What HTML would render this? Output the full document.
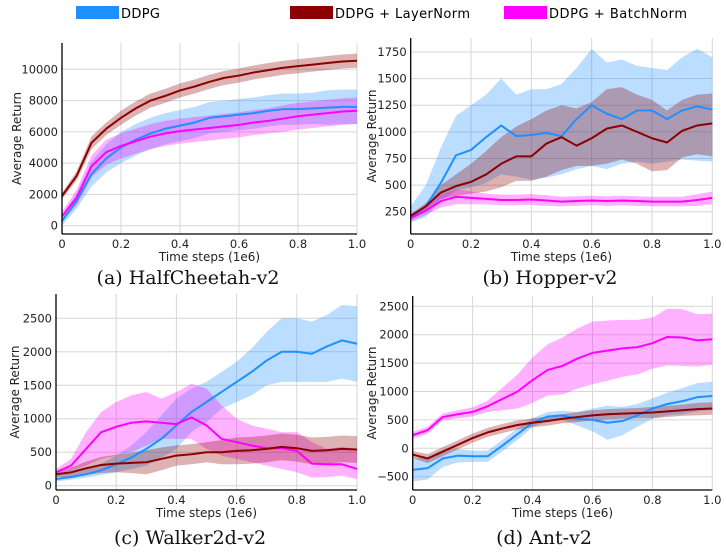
<!DOCTYPE html>
<html><head><meta charset="utf-8"><style>
html,body{margin:0;padding:0;background:#fff;}
svg{display:block;font-family:"DejaVu Sans","Liberation Sans",sans-serif;}
.cap{font-family:"DejaVu Serif","Liberation Serif",serif;font-size:19px;}
</style></head><body>
<svg id="fig" width="727" height="553" xmlns="http://www.w3.org/2000/svg">
<g>
 <rect x="76" y="6" width="43" height="13" fill="#1e90ff"/>
 <text x="121" y="18" font-size="13" textLength="39">DDPG</text>
 <rect x="290" y="6" width="43" height="13" fill="#8b0000"/>
 <text x="335" y="18" font-size="13" textLength="135">DDPG + LayerNorm</text>
 <rect x="504" y="6" width="43" height="13" fill="#ff00ff"/>
 <text x="549" y="18" font-size="13" textLength="138">DDPG + BatchNorm</text>
</g>
</svg>
<script>
const xs=[0,.05,.1,.15,.2,.25,.3,.35,.4,.45,.5,.55,.6,.65,.7,.75,.8,.85,.9,.95,1];
const xTicks=[0,0.2,0.4,0.6,0.8,1.0];
const xTickLabels=["0","0.2","0.4","0.6","0.8","1.0"];
// HalfCheetah
const hcTicks=[0,2000,4000,6000,8000,10000];
const hcLN=[1900,3200,5300,6200,6900,7500,8000,8300,8650,8900,9200,9450,9600,9800,9950,10100,10200,10300,10400,10500,10550];
const hcLNs=[200,300,400,400,450,450,450,450,450,450,450,450,450,450,450,450,450,450,450,450,450];
const hcD=[300,1600,3300,4300,5000,5500,5900,6200,6400,6600,6900,7000,7100,7200,7350,7450,7450,7500,7550,7600,7600];
const hcDs=[300,500,800,900,1000,1000,1000,1000,1000,1000,1000,1000,1000,1000,1000,1000,1000,1000,1100,1100,1100];
const hcB=[600,1800,3800,4700,5100,5400,5700,5900,6050,6150,6250,6350,6450,6600,6700,6850,7000,7100,7200,7300,7350];
const hcBs=[300,500,700,800,800,800,800,800,800,800,800,800,800,800,800,850,850,850,850,850,850];
// Hopper
const hoTicks=[250,500,750,1000,1250,1500,1750];
const hoD=[200,300,520,780,830,950,1060,960,970,990,960,1120,1250,1170,1120,1200,1200,1120,1200,1240,1210];
const hoDhi=[300,500,850,1150,1250,1350,1500,1350,1400,1400,1450,1600,1780,1650,1680,1620,1600,1580,1700,1780,1700];
const hoDlo=[150,200,350,450,480,520,600,580,550,570,600,650,680,650,700,720,700,720,740,730,720];
const hoL=[210,300,430,490,530,600,700,770,770,890,950,870,940,1030,1060,1000,940,900,1010,1060,1080];
const hoLhi=[230,330,500,600,700,820,950,1050,1120,1200,1250,1220,1280,1400,1420,1350,1300,1200,1300,1350,1360];
const hoLlo=[190,270,370,400,420,440,480,540,540,580,640,680,680,700,740,700,630,640,760,790,770];
const hoB=[190,260,350,390,380,370,360,360,365,355,345,350,355,350,355,350,345,345,345,360,380];
const hoBs=[30,40,60,70,60,50,50,50,50,50,45,45,45,45,45,45,45,45,45,55,60];
// Walker
const waTicks=[0,500,1000,1500,2000,2500];
const waD=[100,130,170,230,320,420,550,700,900,1100,1250,1400,1550,1700,1870,2000,2000,1970,2080,2170,2120];
const waDhi=[150,200,250,330,450,600,800,1050,1300,1450,1550,1700,1850,2050,2300,2500,2500,2450,2550,2700,2680];
const waDlo=[60,90,120,160,200,250,300,420,550,800,950,1150,1250,1350,1500,1550,1550,1550,1550,1600,1550];
const waB=[200,300,550,800,880,940,960,940,920,1020,900,700,650,600,560,560,520,330,320,320,250];
const waBhi=[250,400,800,1100,1250,1350,1400,1300,1400,1520,1450,1200,1000,900,850,800,800,650,550,580,550];
const waBlo=[170,220,300,400,450,500,600,700,700,700,550,450,400,350,300,250,200,120,130,150,100];
const waL=[170,200,260,310,330,340,350,400,450,470,500,500,520,530,550,580,560,520,530,550,540];
const waLs=[40,70,100,120,130,150,180,170,150,150,150,180,200,200,200,200,200,200,200,200,200];
// Ant
const anTicks=[-500,0,500,1000,1500,2000,2500];
const anB=[230,320,550,600,640,740,870,1000,1200,1380,1450,1580,1680,1720,1760,1780,1850,1960,1950,1900,1920];
const anBs=[60,60,60,70,80,100,200,300,400,450,500,530,550,530,500,480,450,500,500,460,450];
const anD=[-380,-350,-180,-130,-140,-140,50,250,450,560,580,520,500,450,480,580,700,780,830,900,920];
const anDs=[200,200,150,120,100,100,100,100,80,80,80,120,200,300,250,200,180,200,230,250,250];
const anL=[-110,-180,-60,60,180,280,350,410,450,480,520,550,580,600,610,620,630,650,670,690,700];
const anLs=[60,80,80,80,80,80,80,80,80,80,80,90,90,90,90,90,100,100,100,110,110];

const NS="http://www.w3.org/2000/svg";
const fig=document.getElementById('fig');
function mk(tag,attrs,parent){const e=document.createElementNS(NS,tag);for(const k in attrs)e.setAttribute(k,attrs[k]);(parent||fig).appendChild(e);return e;}
const BLUE="#1e90ff",RED="#8b0000",MAG="#ff00ff";

function panel(id,cfg){
 const g=mk('g',{});
 
 
 const X=v=>cfg.x0+(cfg.x1-cfg.x0)*v;
 const Y=v=>cfg.yz+(v-cfg.v0)*(cfg.yo-cfg.yz)/(cfg.v1-cfg.v0);
 xTicks.forEach((t,i)=>{
  const l=mk('line',{x1:X(t),x2:X(t),y1:cfg.top,y2:cfg.bot,stroke:'#d6d6d6','stroke-width':1},g);
  
  
  const tx=mk('text',{x:X(t),y:cfg.bot+14,'font-size':11.5,'text-anchor':'middle',fill:'#222'},g);
  
  
  tx.textContent=xTickLabels[i];
 });
 cfg.ticks.forEach(t=>{
  const l=mk('line',{x1:cfg.x0,x2:cfg.x1,y1:Y(t),y2:Y(t),stroke:'#d6d6d6','stroke-width':1},g);
  
  
  const tx=mk('text',{x:cfg.x0-4,y:Y(t)+4,'font-size':11.5,'text-anchor':'end',fill:'#222'},g);
  
  
  tx.textContent=String(t).replace('-','\u2212');
 });
 cfg.series.forEach(s=>{
  const up=xs.map((x,i)=>X(x)+','+Y(s.hi[i]));
  const dn=xs.map((x,i)=>X(x)+','+Y(s.lo[i])).reverse();
  const band=mk('polygon',{points:up.concat(dn).join(' '),fill:s.c,'fill-opacity':s.a||0.3,stroke:'none'},g);
  
  
 });
 cfg.series.forEach(s=>{
  const ln=mk('polyline',{points:xs.map((x,i)=>X(x)+','+Y(s.m[i])).join(' '),fill:'none',stroke:s.c,'stroke-width':2,'stroke-linejoin':'round'},g);
  
  
 });
 const sl=mk('line',{x1:cfg.x0,x2:cfg.x0,y1:cfg.top,y2:cfg.bot,stroke:'#000','stroke-width':1.3},g);
 
 
 const sb=mk('line',{x1:cfg.x0,x2:cfg.x1,y1:cfg.bot,y2:cfg.bot,stroke:'#000','stroke-width':1.3},g);
 
 
 const xt=mk('text',{x:(cfg.x0+cfg.x1)/2,y:cfg.bot+27,'font-size':12,'text-anchor':'middle',fill:'#222'},g);
 
 
 xt.textContent='Time steps (1e6)';
 const yt=mk('text',{x:0,y:0,'font-size':12,'text-anchor':'middle',fill:'#222',transform:`translate(${cfg.ytx},${(cfg.top+cfg.bot)/2}) rotate(-90)`},g);
 
 
 yt.textContent='Average Return';
 const cp=mk('text',{x:cfg.cx,y:cfg.cy,'text-anchor':'middle',class:'cap',fill:'#111'},g);
 
 
 cp.textContent=cfg.cap;
}
const sp=(m,s,sign)=>m.map((v,i)=>v+sign*s[i]);
panel('halfcheetah',{x0:62,x1:357,top:43,bot:234,v0:0,v1:10000,yz:225.7,yo:69.3,ticks:hcTicks,ytx:21,cx:188,cy:284,cap:'(a) HalfCheetah-v2',
 series:[{n:'ddpg',c:BLUE,m:hcD,hi:sp(hcD,hcDs,1),lo:sp(hcD,hcDs,-1)},
 {n:'batchnorm',c:MAG,m:hcB,hi:sp(hcB,hcBs,1),lo:sp(hcB,hcBs,-1)},
 {n:'layernorm',c:RED,m:hcLN,hi:sp(hcLN,hcLNs,1),lo:sp(hcLN,hcLNs,-1)}]});
panel('hopper',{x0:410.7,x1:712.3,top:38,bot:234,v0:250,v1:1750,yz:211.7,yo:52,ticks:hoTicks,ytx:376,cx:550,cy:284,cap:'(b) Hopper-v2',
 series:[{n:'ddpg',c:BLUE,m:hoD,hi:hoDhi,lo:hoDlo},
 {n:'layernorm',c:RED,m:hoL,hi:hoLhi,lo:hoLlo},
 {n:'batchnorm',c:MAG,m:hoB,hi:sp(hoB,hoBs,1),lo:sp(hoB,hoBs,-1)}]});
panel('walker',{x0:56,x1:357,top:294,bot:490,v0:0,v1:2500,yz:485.7,yo:318.3,ticks:waTicks,ytx:19,cx:190,cy:544,cap:'(c) Walker2d-v2',
 series:[{n:'ddpg',c:BLUE,m:waD,hi:waDhi,lo:waDlo},
 {n:'batchnorm',c:MAG,m:waB,hi:waBhi,lo:waBlo},
 {n:'layernorm',c:RED,m:waL,hi:sp(waL,waLs,1),lo:sp(waL,waLs,-1)}]});
panel('ant',{x0:412.7,x1:712.3,top:296,bot:490,v0:-500,v1:2500,yz:476.7,yo:306.3,ticks:anTicks,ytx:376,cx:544,cy:544,cap:'(d) Ant-v2',
 series:[{n:'batchnorm',c:MAG,m:anB,hi:sp(anB,anBs,1),lo:sp(anB,anBs,-1)},
 {n:'ddpg',c:BLUE,m:anD,hi:sp(anD,anDs,1),lo:sp(anD,anDs,-1)},
 {n:'layernorm',c:RED,m:anL,hi:sp(anL,anLs,1),lo:sp(anL,anLs,-1)}]});
</script>
</body></html>
